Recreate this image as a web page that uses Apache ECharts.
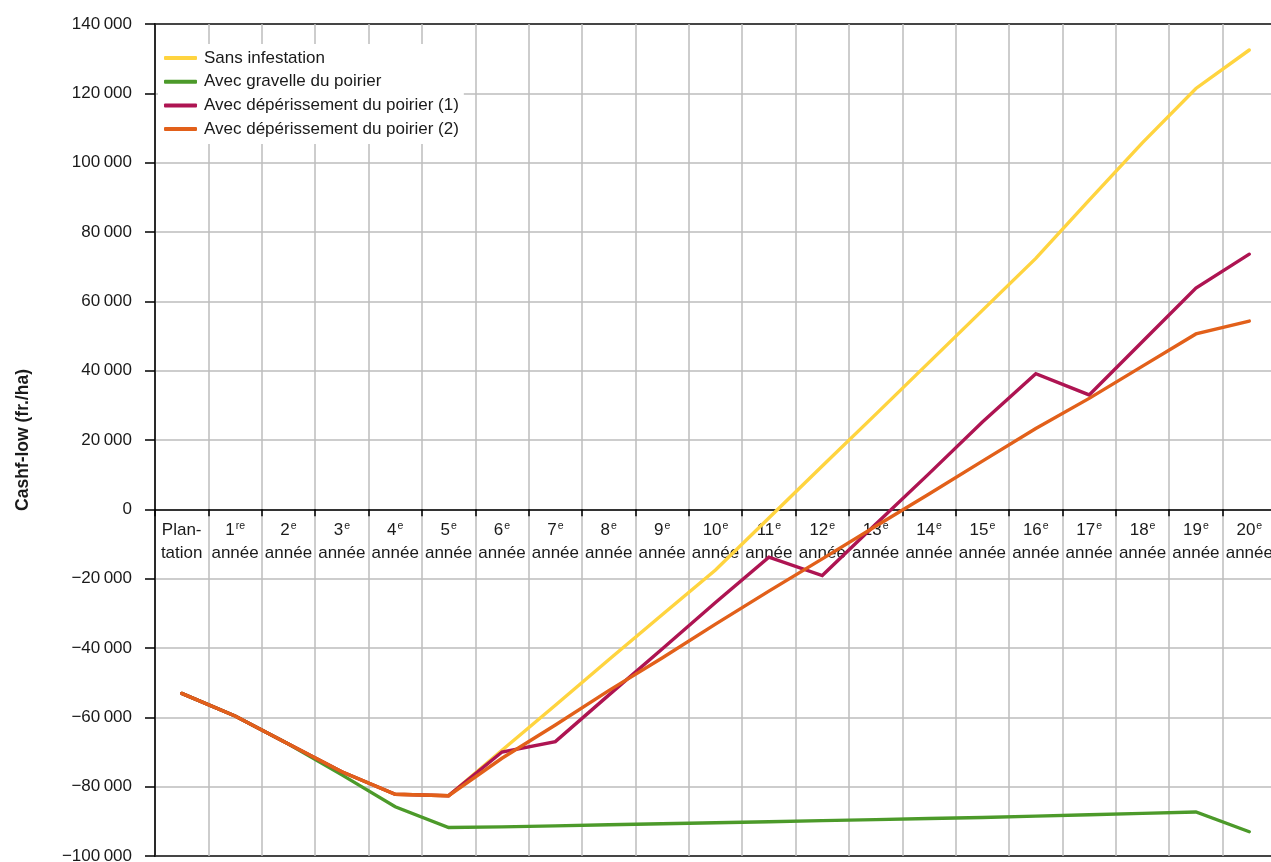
<!DOCTYPE html>
<html>
<head>
<meta charset="utf-8">
<title>Cashflow – poirier</title>
<script src="https://cdn.jsdelivr.net/npm/echarts@6/dist/echarts.min.js"></script>
<style>
  html, body { margin: 0; padding: 0; background: #fff; }
  #chart { width: 1271px; height: 862px; }
</style>
</head>
<body>
<div id="chart"></div>
<script>
// Category labels: number + French ordinal suffix (rendered as superscript) over "année"
const categories = ['Plantation', '1', '2', '3', '4', '5', '6', '7', '8', '9', '10',
  '11', '12', '13', '14', '15', '16', '17', '18', '19', '20'];
const ordinalSuffix = ['', 're', 'e', 'e', 'e', 'e', 'e', 'e', 'e', 'e', 'e',
  'e', 'e', 'e', 'e', 'e', 'e', 'e', 'e', 'e', 'e'];

const seriesNames = [
  'Sans infestation',
  'Avec gravelle du poirier',
  'Avec dépérissement du poirier (1)',
  'Avec dépérissement du poirier (2)'
];

// Cash-flow cumulé (fr./ha)
const sansInfestation = [-53100, -59600, -67700, -75700, -82200, -82600, -69500, -56500, -43400,
  -30400, -17500, -2500, 12500, 27400, 42400, 57400, 72400, 89200, 105800, 121400, 132500];
const gravelle = [-53100, -59600, -67700, -76600, -85800, -91800, -91600, -91300, -91000,
  -90700, -90400, -90100, -89800, -89500, -89200, -88900, -88500, -88100, -87700, -87300, -93000];
const deperissement1 = [-53100, -59600, -67700, -75700, -82200, -82600, -70000, -67000, -53600,
  -40300, -26900, -13800, -19100, -4300, 10300, 25200, 39100, 33000, 48400, 63800, 73600];
const deperissement2 = [-53100, -59600, -67700, -75700, -82200, -82600, -71800, -62200, -52300,
  -42900, -33100, -23600, -14300, -4900, 4400, 13900, 23300, 32000, 41300, 50600, 54300];

const yTicks = { min: -100000, max: 140000, step: 20000 };
const yTitle = 'Cashf-low (fr./ha)';

const colors = ['#FFD43F', '#4C9A2A', '#AE1452', '#E2601A'];
const FONT = '"Liberation Sans", Arial, sans-serif';
const TXT = '#1a1a1a';
const GRID_GREY = '#bdbdbd';
const FRAME = '#3a3a3a';

// plot box (px)
const G = { left: 155, top: 24, right: -5, bottom: 6 };
const plotH = 862 - G.top - G.bottom;
// lift the category axis from the bottom edge up to the value 0
const zeroOffset = -plotH * (0 - yTicks.min) / (yTicks.max - yTicks.min);

// horizontal rules: dark frame at the bottom and top, grey in between
const nRules = (yTicks.max - yTicks.min) / yTicks.step + 1;
const ruleColors = Array.from({ length: nRules }, (_, k) =>
  (k === 0 || k === nRules - 1) ? FRAME : GRID_GREY);

function fmt(v) {
  const s = Math.abs(v).toString().replace(/\B(?=(\d{3})+(?!\d))/g, '\u2009');
  return (v < 0 ? '\u2212' : '') + s;
}

function catLabel(value, idx) {
  if (idx === 0) return '{n|Plan-}\n{n|tation}';
  return '{n|' + value + '}{s|' + ordinalSuffix[idx] + '}\n{n|année}';
}

const chart = echarts.init(document.getElementById('chart'), null, { renderer: 'canvas' });

const data = [sansInfestation, gravelle, deperissement1, deperissement2];

chart.setOption({
  animation: false,
  backgroundColor: '#fff',
  textStyle: { fontFamily: FONT },
  grid: {
    left: G.left, top: G.top, right: G.right, bottom: G.bottom,
    outerBoundsMode: 'none',
    containLabel: false,
    show: true, borderColor: FRAME, borderWidth: 1.5, backgroundColor: '#fff'
  },
  legend: {
    left: 158, top: 44,
    orient: 'vertical',
    backgroundColor: '#fff',
    padding: [4, 5, 5, 6],
    itemWidth: 33, itemHeight: 4, itemGap: 3.7,
    icon: 'roundRect',
    textStyle: { fontFamily: FONT, fontSize: 17, color: TXT, lineHeight: 20, padding: [0, 0, 0, 2] },
    data: seriesNames
  },
  xAxis: {
    type: 'category',
    data: categories,
    boundaryGap: true,
    position: 'bottom',
    offset: zeroOffset,
    axisLine: { onZero: false, lineStyle: { color: '#000', width: 1.5 } },
    axisTick: { show: true, length: 7, lineStyle: { color: '#000', width: 1.5 } },
    splitLine: { show: true, lineStyle: { color: GRID_GREY, width: 1.5 } },
    axisLabel: {
      interval: 0,
      margin: 9,
      hideOverlap: false,
      formatter: catLabel,
      rich: {
        n: { fontFamily: FONT, fontSize: 17, color: TXT, lineHeight: 23.5 },
        s: { fontFamily: FONT, fontSize: 10.5, color: TXT, lineHeight: 23.5, verticalAlign: 'top', padding: [2, 0, 0, 1] }
      }
    }
  },
  yAxis: {
    type: 'value',
    min: yTicks.min, max: yTicks.max, interval: yTicks.step,
    name: yTitle,
    nameLocation: 'middle',
    nameRotate: 90,
    nameGap: 123,
    nameTextStyle: { fontFamily: FONT, fontSize: 17.5, fontWeight: 'bold', color: TXT },
    axisLine: { show: true, lineStyle: { color: '#000', width: 1.5 } },
    axisTick: { show: true, length: 10, lineStyle: { color: '#000', width: 1.5 } },
    splitLine: { show: true, lineStyle: { color: ruleColors, width: 1.5 } },
    axisLabel: { margin: 23, fontFamily: FONT, fontSize: 17, color: TXT, formatter: fmt }
  },
  series: seriesNames.map((name, i) => ({
    name: name,
    type: 'line',
    data: data[i],
    symbol: 'none',
    color: colors[i],
    lineStyle: { color: colors[i], width: 3.4, cap: 'round', join: 'miter' },
    emphasis: { disabled: true },
    z: 2 + i
  }))
});
</script>
</body>
</html>
